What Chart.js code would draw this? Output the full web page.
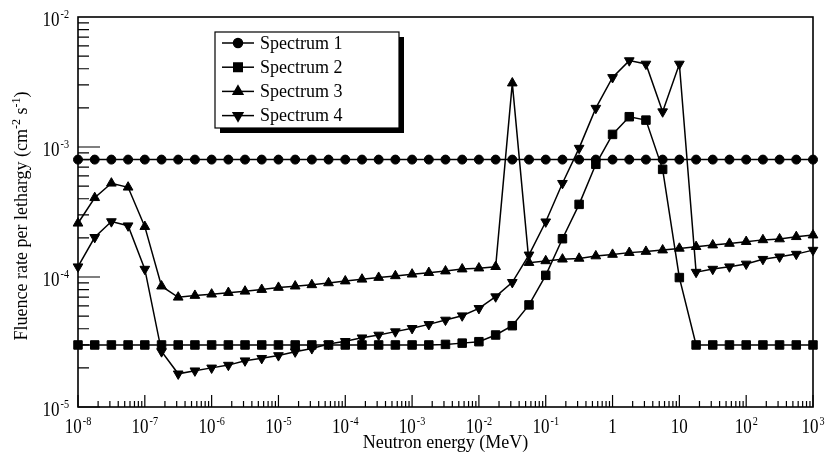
<!DOCTYPE html>
<html>
<head>
<meta charset="utf-8">
<script src="https://cdn.jsdelivr.net/npm/chart.js@4/dist/chart.umd.min.js"></script>
<style>
  html, body { margin: 0; padding: 0; background: #fff; }
  #wrap { width: 830px; height: 457px; }
</style>
</head>
<body>
<div id="wrap"><canvas id="chart" width="830" height="457"></canvas></div>
<script>
// 中子能量 (MeV)，每十倍 4 點
const energies = [
  1e-8, 1.78e-8, 3.16e-8, 5.62e-8,
  1e-7, 1.78e-7, 3.16e-7, 5.62e-7,
  1e-6, 1.78e-6, 3.16e-6, 5.62e-6,
  1e-5, 1.78e-5, 3.16e-5, 5.62e-5,
  1e-4, 1.78e-4, 3.16e-4, 5.62e-4,
  1e-3, 1.78e-3, 3.16e-3, 5.62e-3,
  1e-2, 1.78e-2, 3.16e-2, 5.62e-2,
  0.1, 0.178, 0.316, 0.562,
  1, 1.78, 3.16, 5.62,
  10, 17.8, 31.6, 56.2,
  100, 178, 316, 562,
  1000
];

const seriesNames = ["Spectrum 1", "Spectrum 2", "Spectrum 3", "Spectrum 4"];

const spectrum1 = [
  8e-4, 8e-4, 8e-4, 8e-4, 8e-4, 8e-4, 8e-4, 8e-4, 8e-4, 8e-4,
  8e-4, 8e-4, 8e-4, 8e-4, 8e-4, 8e-4, 8e-4, 8e-4, 8e-4, 8e-4,
  8e-4, 8e-4, 8e-4, 8e-4, 8e-4, 8e-4, 8e-4, 8e-4, 8e-4, 8e-4,
  8e-4, 8e-4, 8e-4, 8e-4, 8e-4, 8e-4, 8e-4, 8e-4, 8e-4, 8e-4,
  8e-4, 8e-4, 8e-4, 8e-4, 8e-4
];

const spectrum2 = [
  3e-5, 3e-5, 3e-5, 3e-5, 3e-5, 3e-5, 3e-5, 3e-5, 3e-5, 3e-5,
  3e-5, 3e-5, 3e-5, 3e-5, 3e-5, 3e-5, 3e-5, 3e-5, 3e-5, 3e-5,
  3e-5, 3.0e-5, 3.03e-5, 3.1e-5, 3.18e-5, 3.58e-5, 4.22e-5, 6.1e-5, 1.03e-4, 1.97e-4,
  3.62e-4, 7.36e-4, 1.25e-3, 1.71e-3, 1.61e-3, 6.73e-4, 9.9e-5, 3e-5, 3e-5, 3e-5,
  3e-5, 3e-5, 3e-5, 3e-5, 3e-5
];

const spectrum3 = [
  2.59e-4, 4.07e-4, 5.26e-4, 4.9e-4, 2.44e-4, 8.5e-5, 6.98e-5, 7.2e-5, 7.37e-5, 7.58e-5,
  7.76e-5, 8.0e-5, 8.3e-5, 8.5e-5, 8.7e-5, 9.0e-5, 9.3e-5, 9.6e-5, 9.9e-5, 1.02e-4,
  1.05e-4, 1.08e-4, 1.11e-4, 1.15e-4, 1.17e-4, 1.2e-4, 3.1e-3, 1.29e-4, 1.33e-4, 1.37e-4,
  1.39e-4, 1.45e-4, 1.49e-4, 1.54e-4, 1.57e-4, 1.61e-4, 1.66e-4, 1.71e-4, 1.76e-4, 1.81e-4,
  1.87e-4, 1.93e-4, 1.96e-4, 2.04e-4, 2.1e-4
];

const spectrum4 = [
  1.2e-4, 2.02e-4, 2.67e-4, 2.48e-4, 1.15e-4, 2.67e-5, 1.8e-5, 1.9e-5, 2.0e-5, 2.1e-5,
  2.27e-5, 2.37e-5, 2.49e-5, 2.66e-5, 2.82e-5, 3.05e-5, 3.2e-5, 3.41e-5, 3.58e-5, 3.8e-5,
  4.03e-5, 4.32e-5, 4.67e-5, 5.04e-5, 5.74e-5, 7.06e-5, 9.1e-5, 1.48e-4, 2.66e-4, 5.26e-4,
  9.8e-4, 1.99e-3, 3.43e-3, 4.62e-3, 4.35e-3, 1.87e-3, 4.35e-3, 1.09e-4, 1.15e-4, 1.2e-4,
  1.26e-4, 1.37e-4, 1.43e-4, 1.5e-4, 1.61e-4
];

// 刻度標籤
const xTickValues = [1e-8, 1e-7, 1e-6, 1e-5, 1e-4, 1e-3, 1e-2, 1e-1, 1, 10, 100, 1000];
const xTickLabels = [["10", "-8"], ["10", "-7"], ["10", "-6"], ["10", "-5"], ["10", "-4"], ["10", "-3"],
                     ["10", "-2"], ["10", "-1"], ["1", ""], ["10", ""], ["10", "2"], ["10", "3"]];
const yTickValues = [1e-5, 1e-4, 1e-3, 1e-2];
const yTickLabels = [["10", "-5"], ["10", "-4"], ["10", "-3"], ["10", "-2"]];

const xTitle = "Neutron energy (MeV)";
const yTitleParts = [["Fluence rate per lethargy (cm", false], ["-2", true], [" s", false], ["-1", true], [")", false]];

const FONT = '"Liberation Serif", "Times New Roman", serif';

function toPoints(values) {
  return values.map((v, i) => ({ x: energies[i], y: v }));
}

// 上標文字 (水平壓縮 sx)
function drawPower(ctx, base, exp, x, y, align, size, expSize, sx) {
  ctx.save();
  ctx.font = size + "px " + FONT;
  const wb = ctx.measureText(base).width * sx;
  ctx.font = expSize + "px " + FONT;
  const we = exp ? ctx.measureText(exp).width * sx + 1 : 0;
  const w = wb + we;
  let start = x - w / 2;
  if (align === "right") start = x - w;
  ctx.textBaseline = "alphabetic";
  ctx.textAlign = "left";
  ctx.translate(start, y);
  ctx.scale(sx, 1);
  ctx.font = size + "px " + FONT;
  ctx.fillText(base, 0, 0);
  if (exp) {
    ctx.font = expSize + "px " + FONT;
    ctx.fillText(exp, (wb + 1) / sx, -8);
  }
  ctx.restore();
}

const axesPlugin = {
  id: "axesPlugin",
  afterDraw(chart) {
    const ctx = chart.ctx;
    const a = chart.chartArea;
    const xs = chart.scales.x;
    const ys = chart.scales.y;
    ctx.save();
    ctx.strokeStyle = "#000";
    ctx.fillStyle = "#000";
    ctx.lineWidth = 1.6;
    ctx.strokeRect(a.left, a.top, a.right - a.left, a.bottom - a.top);

    // 刻度線 (向內)
    ctx.lineWidth = 1.2;
    ctx.beginPath();
    for (let d = -8; d < 3; d++) {
      for (let m = 1; m < 10; m++) {
        const px = xs.getPixelForValue(m * Math.pow(10, d));
        const len = m === 1 ? 12 : 6;
        ctx.moveTo(px, a.bottom);
        ctx.lineTo(px, a.bottom - len);
      }
    }
    const pxEnd = xs.getPixelForValue(1000);
    ctx.moveTo(pxEnd, a.bottom);
    ctx.lineTo(pxEnd, a.bottom - 12);
    for (let d = -5; d < -2; d++) {
      for (let m = 1; m < 10; m++) {
        const py = ys.getPixelForValue(m * Math.pow(10, d));
        const len = m === 1 ? 22 : 11;
        ctx.moveTo(a.left, py);
        ctx.lineTo(a.left + len, py);
      }
    }
    ctx.stroke();

    // 刻度標籤
    xTickValues.forEach((v, i) => {
      const px = xs.getPixelForValue(v);
      drawPower(ctx, xTickLabels[i][0], xTickLabels[i][1], px, 433, "center", 20, 12, 0.85);
    });
    yTickValues.forEach((v, i) => {
      const py = ys.getPixelForValue(v);
      drawPower(ctx, yTickLabels[i][0], yTickLabels[i][1], a.left - 9, py + 9, "right", 20, 12, 0.85);
    });

    // 軸標題
    ctx.font = "18px " + FONT;
    ctx.textAlign = "center";
    ctx.textBaseline = "alphabetic";
    ctx.fillText(xTitle, (a.left + a.right) / 2, 448);

    ctx.save();
    ctx.translate(27, 216);
    ctx.rotate(-Math.PI / 2);
    let total = 0;
    yTitleParts.forEach(([t, sup]) => {
      ctx.font = (sup ? "12px " : "18px ") + FONT;
      total += ctx.measureText(t).width;
    });
    let cx = -total / 2;
    ctx.textAlign = "left";
    yTitleParts.forEach(([t, sup]) => {
      ctx.font = (sup ? "12px " : "18px ") + FONT;
      ctx.fillText(t, cx, sup ? -7 : 0);
      cx += ctx.measureText(t).width;
    });
    ctx.restore();

    // 圖例
    const lx = 215, ly = 32, lw = 184, lh = 96;
    ctx.fillRect(lx + 5, ly + 5, lw, lh);
    ctx.fillStyle = "#fff";
    ctx.fillRect(lx, ly, lw, lh);
    ctx.lineWidth = 1.2;
    ctx.strokeRect(lx, ly, lw, lh);
    ctx.fillStyle = "#000";
    chart.data.datasets.forEach((ds, i) => {
      const yy = ly + 11 + i * 24.2;
      ctx.lineWidth = 1.5;
      ctx.beginPath();
      ctx.moveTo(lx + 7, yy);
      ctx.lineTo(lx + 39, yy);
      ctx.stroke();
      Chart.helpers.drawPoint(ctx, {
        pointStyle: ds.pointStyle,
        rotation: ds.pointRotation || 0,
        radius: ds.pointRadius,
        borderWidth: 1
      }, lx + 23, yy);
      ctx.font = "18px " + FONT;
      ctx.textAlign = "left";
      ctx.textBaseline = "middle";
      ctx.fillText(ds.label, lx + 45, yy + 1);
    });
    ctx.restore();
  }
};

function makeSet(label, values, style, radius, rotation) {
  return {
    label: label,
    data: toPoints(values),
    borderColor: "#000",
    backgroundColor: "#000",
    borderWidth: 1.5,
    pointStyle: style,
    pointRadius: radius,
    pointHoverRadius: radius,
    pointRotation: rotation,
    pointBackgroundColor: "#000",
    pointBorderColor: "#000",
    pointBorderWidth: 1,
    tension: 0,
    clip: false
  };
}

window.onload = () => {
  const ctx = document.getElementById("chart").getContext("2d");
  new Chart(ctx, {
    type: "line",
    data: {
      datasets: [
        makeSet(seriesNames[0], spectrum1, "circle", 4.5, 0),
        makeSet(seriesNames[1], spectrum2, "rect", 6, 0),
        makeSet(seriesNames[2], spectrum3, "triangle", 5.6, 0),
        makeSet(seriesNames[3], spectrum4, "triangle", 5.6, 180)
      ]
    },
    options: {
      responsive: false,
      animation: false,
      devicePixelRatio: 1,
      layout: { padding: { left: 78, right: 17, top: 17, bottom: 50 } },
      plugins: { legend: { display: false }, tooltip: { enabled: false } },
      scales: {
        x: { type: "logarithmic", min: 1e-8, max: 1000, display: false },
        y: { type: "logarithmic", min: 1e-5, max: 1e-2, display: false }
      }
    },
    plugins: [axesPlugin]
  });
};
</script>
</body>
</html>
